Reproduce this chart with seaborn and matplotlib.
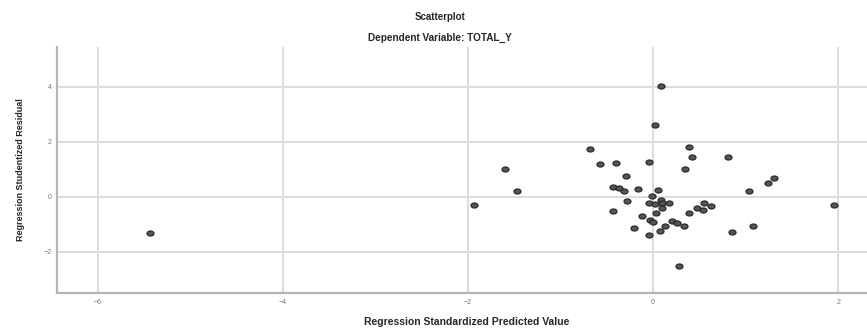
import matplotlib
matplotlib.use("Agg")
import matplotlib.pyplot as plt
import seaborn as sns
import pandas as pd
import numpy as np
from matplotlib.path import Path

# Regression diagnostics: standardized predicted value vs studentized residual
predicted = [-5.44, -1.94, -1.60, -1.47, -0.68, -0.57, -0.40, -0.43, -0.37, -0.31,
             -0.29, -0.28, -0.43, -0.16, -0.12, -0.21, -0.05, -0.05, -0.04, -0.03,
             -0.01, 0.00, 0.02, 0.02, 0.03, 0.05, 0.07, 0.08, 0.08, 0.10,
             0.10, 0.13, 0.17, 0.20, 0.26, 0.28, 0.33, 0.34, 0.39, 0.39,
             0.42, 0.47, 0.54, 0.55, 0.62, 0.81, 0.85, 1.04, 1.08, 1.24,
             1.31, 1.95]
residual = [-1.31, -0.28, 1.00, 0.20, 1.75, 1.20, 1.22, 0.38, 0.31, 0.23,
            0.75, -0.15, -0.52, 0.28, -0.68, -1.13, 1.28, -0.21, -1.38, -0.84,
            0.04, -0.90, 2.62, -0.25, -0.59, 0.25, -1.24, 4.04, -0.11, -0.21,
            -0.41, -1.05, -0.23, -0.86, -0.96, -2.50, -1.05, 1.00, 1.81, -0.57,
            1.44, -0.39, -0.47, -0.21, -0.33, 1.47, -1.27, 0.21, -1.05, 0.50,
            0.70, -0.30]

df = pd.DataFrame({"pred": predicted, "resid": residual})

# slightly flattened circle marker
theta = np.linspace(0, 2 * np.pi, 33)
oval = Path(np.column_stack([np.cos(theta), 0.72 * np.sin(theta)]), closed=True)

sns.set_style("whitegrid")
plt.rcParams["font.family"] = ["Liberation Sans", "DejaVu Sans"]

fig = plt.figure(figsize=(8.67, 3.29), dpi=100)
ax = fig.add_axes([57 / 867, 1 - 293 / 329, (867 - 57) / 867, (293 - 47) / 329])

sns.scatterplot(data=df, x="pred", y="resid", ax=ax, s=26, marker=oval,
                color="#555555", edgecolor="#222222", linewidth=0.8, zorder=3)

ax.set_xlim(-6.44, 2.31)
ax.set_ylim(-3.49, 5.45)
ax.set_xticks([-6, -4, -2, 0, 2])
ax.set_yticks([-2, 0, 2, 4])
ax.grid(True, color="#dcdcdc", linewidth=1.4)
ax.tick_params(axis="both", labelsize=5, colors="#777777", length=2, width=0.6,
               pad=2)
for side in ("top", "right"):
    ax.spines[side].set_visible(False)
for side in ("left", "bottom"):
    ax.spines[side].set_color("#b5b5b5")
    ax.spines[side].set_linewidth(1.6)

ax.set_xlabel("")
ax.set_ylabel("")
fig.text(467 / 867, 1 - 322 / 329, "Regression Standardized Predicted Value",
         ha="center", va="center", fontsize=7.5, fontweight="bold", color="#262626")
fig.text(21 / 867, 1 - 170 / 329, "Regression Studentized Residual",
         ha="center", va="center", rotation=90, fontsize=6.5, fontweight="bold",
         color="#262626")
fig.text(440 / 867, 1 - 17 / 329, "Scatterplot", ha="center", va="center",
         fontsize=7, fontweight="bold", color="#262626")
fig.text(440 / 867, 1 - 38 / 329, "Dependent Variable: TOTAL_Y", ha="center",
         va="center", fontsize=7.2, fontweight="bold", color="#262626")

fig.savefig("out.png", dpi=100, facecolor="white")
